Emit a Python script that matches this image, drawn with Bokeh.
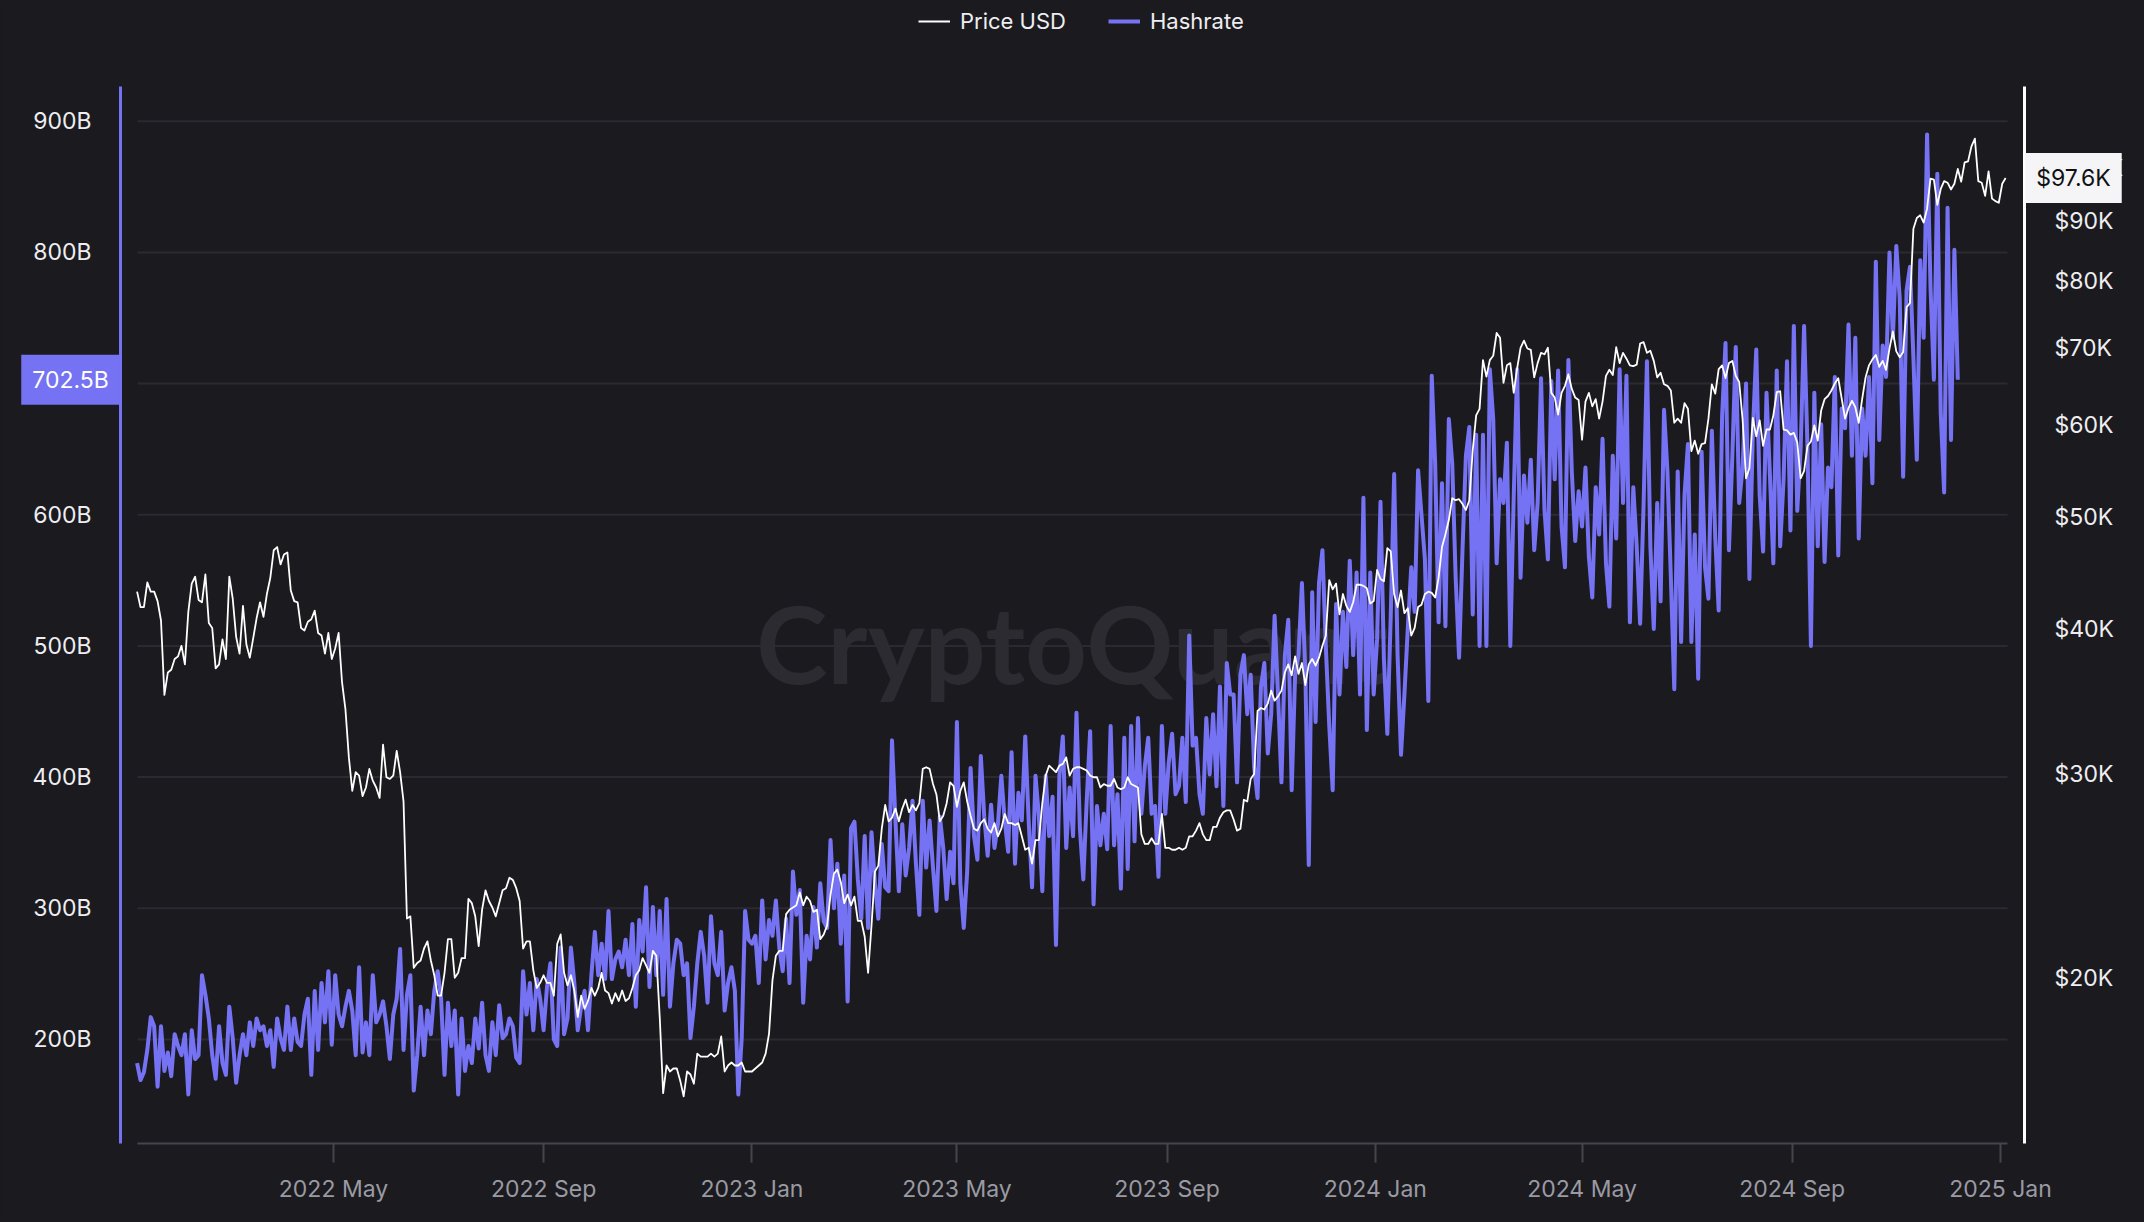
import math
import pandas as pd
from bokeh.plotting import figure
from bokeh.models import (Range1d, LogScale, LinearAxis, LogAxis, DatetimeAxis, FixedTicker,
                          PrintfTickFormatter, DatetimeTickFormatter, Legend, LegendItem, Label)
from bokeh.core.properties import value
from bokeh.embed import file_html
from bokeh.resources import INLINE

# ---------------- data ----------------
series_start = "2022-01-06"          # both series: one value every 2 days
step = "2D"

# Hashrate, in B (left axis)
hashrate_b = [
    182, 169, 175, 192, 217, 210, 164, 210, 176, 190,
    172, 204, 195, 188, 204, 158, 207, 185, 188, 249,
    234, 216, 188, 170, 210, 182, 173, 225, 201, 167,
    188, 204, 188, 213, 195, 216, 207, 210, 195, 207,
    179, 216, 201, 192, 225, 192, 216, 198, 195, 219,
    231, 173, 237, 192, 243, 213, 252, 196, 249, 219,
    210, 225, 237, 222, 188, 255, 190, 213, 188, 249,
    213, 219, 229, 210, 185, 219, 231, 269, 192, 234,
    249, 161, 188, 225, 188, 222, 204, 237, 252, 231,
    173, 228, 195, 222, 158, 216, 176, 195, 182, 216,
    193, 228, 188, 176, 213, 188, 226, 201, 204, 216,
    210, 186, 182, 252, 219, 243, 207, 246, 231, 207,
    240, 258, 200, 195, 270, 204, 216, 270, 243, 207,
    225, 237, 207, 249, 282, 249, 273, 246, 298, 246,
    261, 267, 255, 276, 249, 288, 225, 291, 267, 316,
    240, 301, 249, 298, 234, 307, 225, 258, 276, 273,
    249, 258, 201, 225, 258, 282, 264, 228, 294, 258,
    249, 282, 222, 243, 255, 237, 158, 201, 298, 276,
    273, 279, 243, 306, 261, 291, 279, 306, 270, 252,
    292, 243, 328, 295, 314, 228, 279, 261, 301, 270,
    319, 290, 285, 352, 300, 334, 273, 325, 229, 361,
    366, 322, 292, 355, 285, 358, 319, 292, 349, 316,
    313, 428, 367, 313, 364, 325, 346, 382, 334, 295,
    382, 331, 367, 331, 298, 370, 346, 307, 343, 319,
    442, 319, 285, 328, 407, 355, 337, 416, 370, 340,
    379, 346, 364, 401, 367, 343, 419, 334, 388, 367,
    431, 367, 316, 401, 370, 313, 401, 355, 385, 272,
    401, 431, 346, 392, 355, 449, 361, 322, 382, 435,
    303, 378, 348, 372, 345, 439, 348, 387, 315, 430,
    330, 439, 351, 445, 372, 408, 430, 372, 378, 324,
    439, 372, 411, 433, 387, 393, 430, 381, 508, 424,
    430, 387, 372, 445, 402, 448, 393, 469, 378, 487,
    463, 463, 396, 478, 493, 448, 478, 408, 384, 469,
    487, 418, 448, 523, 463, 396, 493, 520, 390, 478,
    493, 548, 480, 333, 541, 442, 548, 573, 499, 439,
    390, 532, 463, 526, 484, 565, 493, 556, 463, 613,
    436, 556, 463, 505, 610, 490, 433, 523, 631, 493,
    417, 463, 514, 560, 526, 634, 600, 566, 458, 706,
    639, 518, 624, 515, 673, 639, 552, 491, 573, 645,
    667, 524, 661, 500, 661, 500, 711, 673, 563, 627,
    609, 655, 500, 614, 711, 552, 630, 594, 642, 573,
    609, 704, 604, 566, 702, 627, 710, 591, 560, 718,
    633, 580, 618, 591, 636, 568, 537, 621, 585, 658,
    563, 530, 645, 582, 711, 609, 706, 518, 621, 576,
    517, 606, 717, 576, 513, 609, 534, 680, 633, 552,
    467, 633, 503, 615, 654, 503, 585, 475, 648, 560,
    536, 664, 582, 527, 675, 731, 573, 645, 728, 609,
    636, 700, 551, 663, 726, 615, 572, 693, 630, 563,
    710, 576, 627, 717, 588, 744, 603, 651, 744, 651,
    500, 693, 576, 669, 564, 636, 621, 705, 569, 681,
    666, 745, 645, 735, 582, 681, 645, 705, 624, 793,
    657, 729, 705, 800, 735, 805, 765, 629, 771, 789,
    720, 642, 794, 735, 890, 774, 703, 860, 678, 617,
    834, 657, 802, 703,
]

# Price USD, in thousands (right axis, log)
price_k = [
    # 2022
    43.1, 41.8, 41.8, 43.9, 43.1, 43.1, 42.3, 40.7, 35.1, 36.7, 36.9, 37.7, 37.9,
    38.7, 37.3, 41.4, 43.8, 44.4, 42.4, 42.2, 44.6, 40.5, 40.1, 37.0, 37.3, 39.2, 37.7,
    44.4, 42.5, 39.4, 38.1, 41.9, 38.8, 37.8, 39.3, 40.9, 42.2, 41.0, 42.9, 44.3, 46.8, 47.1, 45.5,
    46.4, 46.6, 43.2, 42.3, 42.2, 40.1, 39.9, 40.6, 40.8, 41.5, 39.7, 39.5, 38.1, 39.7, 37.7,
    38.5, 39.7, 36.0, 34.1, 31.0, 29.0, 30.1, 29.9, 28.7, 29.2, 30.3, 29.6, 29.2, 28.6, 31.8,
    29.8, 29.7, 29.9, 31.4, 30.1, 28.4, 22.5, 22.6, 20.4, 20.6, 20.7, 21.2, 21.5, 20.7, 20.1,
    19.3, 19.3, 20.2, 21.6, 21.6, 20.0, 20.2, 20.8, 20.8, 23.4, 23.2, 22.6, 21.3, 22.9, 23.8, 23.3,
    23.0, 22.6, 23.2, 23.8, 23.9, 24.4, 24.3, 23.9, 23.3, 21.2, 21.5, 21.5, 20.3, 19.6, 19.8,
    20.1, 19.8, 19.8, 19.3, 21.4, 21.8, 20.2, 19.7, 20.1, 19.5, 18.5, 19.3, 18.8, 19.1, 19.6,
    19.3, 19.6, 20.2, 19.5, 19.4, 19.0, 19.4, 19.1, 19.5, 19.1, 19.2, 19.6, 20.1, 20.3, 20.8, 20.5,
    20.2, 21.1, 20.9, 18.5, 15.9, 16.8, 16.6, 16.7, 16.7, 16.3, 15.8, 16.6, 16.5, 16.2, 17.2,
    17.1, 17.1, 17.1, 17.2, 17.1, 17.2, 17.8, 16.6, 16.8, 16.9, 16.8, 16.8, 16.9, 16.6, 16.6,
    # 2023
    16.6, 16.7, 16.8, 16.9, 17.2, 17.9, 19.9, 20.9, 21.1, 21.1, 22.7, 22.9, 23.0, 23.1, 23.7, 23.1,
    23.5, 23.3, 22.8, 22.9, 21.6, 21.8, 22.2, 23.6, 24.6, 24.8, 24.2, 23.2, 23.6, 23.1,
    23.5, 22.4, 22.4, 21.7, 20.2, 22.2, 24.7, 25.0, 26.9, 28.2, 27.3, 27.5, 28.0, 27.3, 28.0,
    28.5, 27.8, 28.2, 27.9, 28.3, 30.3, 30.4, 30.3, 29.4, 28.8, 27.3, 27.6, 28.3, 29.5, 29.3,
    28.1, 29.0, 29.5, 28.4, 27.6, 26.9, 26.8, 27.2, 27.4, 26.9, 26.7, 27.2, 26.5, 26.9, 27.7, 27.2,
    27.2, 27.1, 27.2, 26.5, 25.8, 25.9, 25.1, 26.3, 26.3, 28.3, 29.9, 30.5, 30.3, 30.1, 30.5,
    30.6, 31.0, 29.9, 30.3, 30.4, 30.4, 30.3, 30.2, 29.9, 29.8, 29.8, 29.2, 29.4, 29.3, 29.3,
    29.7, 29.2, 29.1, 29.2, 29.8, 29.4, 29.3, 29.2, 26.6, 26.1, 26.1, 26.4, 26.1, 26.1, 27.7, 25.9,
    25.9, 25.8, 25.8, 25.9, 25.8, 25.9, 26.5, 26.5, 26.8, 27.2, 26.6, 26.3, 26.3, 27.0, 27.0,
    27.5, 27.8, 27.9, 27.9, 27.4, 26.8, 26.9, 28.5, 28.4, 29.7, 30.0, 34.0, 34.2, 34.1, 34.5,
    35.4, 34.7, 35.0, 35.4, 36.7, 37.3, 36.5, 37.9, 36.6, 37.4, 35.8, 37.3, 37.7, 37.2, 37.8,
    38.7, 39.5, 44.1, 43.3, 43.8, 41.2, 42.9, 41.9, 41.4, 42.2, 43.7, 43.7, 43.6, 43.4, 42.1, 42.3,
    # 2024
    45.0, 44.2, 44.0, 47.0, 46.7, 42.9, 41.8, 43.2, 41.3, 41.7, 39.5, 40.1, 41.8, 42.0, 42.9,
    43.1, 43.0, 42.6, 44.3, 47.1, 48.3, 49.7, 51.9, 51.7, 51.8, 51.3, 50.7, 51.7, 57.1, 61.2,
    62.0, 68.3, 66.1, 68.3, 68.9, 72.1, 71.4, 65.3, 67.6, 67.9, 64.0, 67.2, 70.0, 71.0, 69.9,
    69.7, 66.0, 67.9, 69.3, 69.1, 70.0, 64.0, 63.4, 61.3, 64.0, 64.9, 66.4, 64.5, 63.4, 63.1,
    58.3, 62.9, 64.0, 62.3, 63.2, 60.8, 62.9, 66.2, 67.0, 66.3, 70.1, 67.9, 69.3, 68.5, 67.6, 67.5,
    67.7, 70.6, 70.8, 69.3, 69.6, 68.2, 66.0, 66.6, 65.1, 64.9, 64.3, 60.3, 60.8, 60.3, 62.7,
    62.0, 57.0, 58.2, 56.7, 57.8, 57.9, 60.8, 65.1, 63.9, 67.1, 67.6, 65.9, 67.9, 68.2, 66.2,
    65.4, 60.7, 54.0, 55.1, 60.9, 58.7, 60.6, 57.6, 59.5, 59.5, 61.2, 64.1, 64.2, 59.5, 59.4, 58.9,
    59.1, 58.0, 54.0, 54.8, 57.6, 58.1, 60.0, 58.2, 61.8, 63.2, 63.6, 64.3, 65.2, 65.9, 63.3,
    60.8, 62.1, 63.0, 62.2, 60.3, 63.2, 66.0, 67.6, 68.4, 69.0, 67.4, 68.2, 67.0, 69.9, 72.3,
    69.5, 68.7, 69.4, 75.9, 76.5, 88.7, 90.6, 91.1, 89.8, 92.3, 98.0, 97.8, 93.0, 96.0, 97.5,
    97.2, 95.9, 97.0, 99.9, 97.4, 101.2, 101.4, 104.5, 106.1, 97.5, 97.2, 94.7, 99.4, 94.2, 93.7, 93.4,
    # 2025
    97.0, 98.1,
]

left_ticks = [200, 300, 400, 500, 600, 700, 800, 900]
right_ticks = [20, 30, 40, 50, 60, 70, 80, 90, 100]
x_tick_dates = ["2022-05-01", "2022-09-01", "2023-01-01", "2023-05-01", "2023-09-01",
                "2024-01-01", "2024-05-01", "2024-09-01", "2025-01-01"]
legend_labels = ["Price USD", "Hashrate"]
hash_last_label = "702.5B"
price_last_label = "$97.6K"
watermark_text = "CryptoQuant"

# ---------------- style / geometry ----------------
BG = "#1b1a1f"
GRID = "#2a2a30"
PURPLE = "#7672f4"
WHITE = "#ffffff"
TXT = "#eeeef2"
XTXT = "#9a9aa3"
AXIS_GRAY = "#45454c"
FONT = "Inter"

W, H = 2140, 1218                 # frame == whole canvas
ANCHOR = pd.Timestamp("2022-05-01")
ANCHOR_PX = 333.0                  # page x of the anchor date
PX_PER_DAY = 1.708


def px_to_ms(px):
    t = ANCHOR + pd.Timedelta(days=(px - ANCHOR_PX) / PX_PER_DAY)
    return t.value / 1e6


def py_to_hash(py):
    # page y = 120.8 at 900B, 1.3116 px per B
    return 900 - (py - 120.8) / 1.3116


def py_to_price(py):
    # log scale: page y = 977.3 at $20K, 502.9 px per e-fold
    return 20 * math.exp((977.3 - py) / 502.9)


def to_ms(ts):
    return pd.Timestamp(ts).value / 1e6


AX_L, AX_R, AX_T, AX_B = 120, 2024, 86, 1143     # axis-line positions (page px)
G_L, G_R = 137, 2007                             # gridline extent (page px)

h_dates = pd.date_range(series_start, periods=len(hashrate_b), freq=step)
p_dates = pd.date_range(series_start, periods=len(price_k), freq=step)

p = figure(x_range=Range1d(px_to_ms(0), px_to_ms(W)),
           y_range=Range1d(py_to_hash(H), py_to_hash(0)),
           width=W, height=H, min_border=0,
           x_axis_location=None, y_axis_location=None,
           output_backend="svg", toolbar_location=None,
           background_fill_color=BG, border_fill_color=BG,
           outline_line_color=None)
p.extra_y_ranges = {"price": Range1d(py_to_price(H), py_to_price(0))}
p.extra_y_scales = {"price": LogScale()}
p.xgrid.visible = False
p.ygrid.visible = False

# gridlines (inset from the axis lines, like the reference)
g0, g1 = px_to_ms(G_L), px_to_ms(G_R)
p.segment(x0=[g0] * len(left_ticks), x1=[g1] * len(left_ticks),
          y0=left_ticks, y1=left_ticks, line_color=GRID, line_width=2, level="underlay")

# watermark
p.text(x=[px_to_ms(1072)], y=[py_to_hash(641)], text=[watermark_text],
       text_font=value("Lato"), text_font_size="108px", text_font_style="bold",
       text_color="#2b2b31", text_align="center", text_baseline="alphabetic",
       level="underlay")

hash_r = p.line(x=h_dates, y=hashrate_b, line_color=PURPLE, line_width=4,
                line_join="round")
price_r = p.line(x=p_dates, y=price_k, y_range_name="price", line_color=WHITE,
                 line_width=1.8, line_join="round")

# left axis (hashrate)
ya = LinearAxis(ticker=FixedTicker(ticks=left_ticks),
                formatter=PrintfTickFormatter(format="%dB"),
                fixed_location=px_to_ms(AX_L),
                bounds=(py_to_hash(AX_B), py_to_hash(AX_T)))
ya.axis_line_color = PURPLE
ya.axis_line_width = 3
ya.major_tick_line_color = None
ya.minor_tick_line_color = None
ya.major_label_text_font = FONT
ya.major_label_text_font_size = "23px"
ya.major_label_text_color = TXT
ya.major_label_standoff = 23
p.add_layout(ya, "left")

# right axis (price, log)
ra = LogAxis(y_range_name="price", ticker=FixedTicker(ticks=right_ticks),
             formatter=PrintfTickFormatter(format="$%dK"),
             fixed_location=px_to_ms(AX_R),
             bounds=(py_to_price(AX_B), py_to_price(AX_T)))
ra.axis_line_color = WHITE
ra.axis_line_width = 3
ra.major_tick_line_color = None
ra.minor_tick_line_color = None
ra.major_label_text_font = FONT
ra.major_label_text_font_size = "23px"
ra.major_label_text_color = TXT
ra.major_label_standoff = 24
p.add_layout(ra, "right")

# bottom axis (dates)
fmt = "%Y %b"
xa = DatetimeAxis(ticker=FixedTicker(ticks=[to_ms(d) for d in x_tick_dates]),
                  formatter=DatetimeTickFormatter(years=fmt, months=fmt, days=fmt, hours=fmt,
                                                  minutes=fmt, seconds=fmt, milliseconds=fmt),
                  fixed_location=py_to_hash(AX_B),
                  bounds=(g0, g1))
xa.axis_line_color = AXIS_GRAY
xa.axis_line_width = 2
xa.major_tick_line_color = AXIS_GRAY
xa.major_tick_line_width = 2
xa.major_tick_out = 19
xa.major_tick_in = 0
xa.minor_tick_line_color = None
xa.major_label_text_font = FONT
xa.major_label_text_font_size = "23px"
xa.major_label_text_color = XTXT
xa.major_label_standoff = 12
p.add_layout(xa, "below")

# legend (above the data, centred)
legend = Legend(items=[LegendItem(label=legend_labels[0], renderers=[price_r]),
                       LegendItem(label=legend_labels[1], renderers=[hash_r])],
                orientation="horizontal", location=(918, H - 34),
                background_fill_alpha=0, border_line_alpha=0,
                label_text_font=FONT, label_text_font_size="22px",
                label_text_color=TXT, glyph_width=32, glyph_height=24,
                label_height=24, label_standoff=10, spacing=42,
                padding=0, margin=0)
p.add_layout(legend)

# last-value tags on both axes
p.add_layout(Label(x=70, x_units="screen", y=hashrate_b[-1], text=hash_last_label,
                   text_align="center", text_baseline="middle", text_font=FONT,
                   text_font_size="23px", text_color=WHITE,
                   background_fill_color=PURPLE, padding=11))
p.add_layout(Label(x=2073, x_units="screen", y=price_k[-1], y_range_name="price",
                   text=price_last_label, text_align="center", text_baseline="middle",
                   text_font=FONT, text_font_size="23px", text_color="#111114",
                   background_fill_color="#f5f5f8", padding=11))

html = file_html(p, INLINE, title="Hashrate vs Price")
html = html.replace("<head>", "<head><style>html, body {background-color: #1b1a1f;}</style>", 1)
open("out.html", "w").write(html)
